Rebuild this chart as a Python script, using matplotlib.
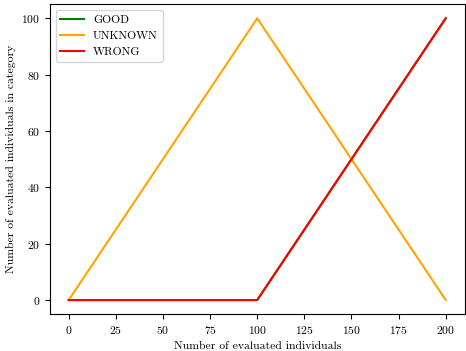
import numpy as np
import matplotlib.pyplot as plt

plt.rcParams['font.family'] = 'serif'
plt.rcParams['font.serif'] = ['cmr10', 'DejaVu Serif']
plt.rcParams['mathtext.fontset'] = 'cm'
plt.rcParams['axes.formatter.use_mathtext'] = True
plt.rcParams['font.size'] = 8.4

evaluated = [0, 100, 200]
good = [0, 0, 100]
unknown = [0, 100, 0]
wrong = [0, 0, 100]

fig, ax = plt.subplots(figsize=(4.66, 3.51), dpi=100)
fig.subplots_adjust(left=0.107, right=0.997, bottom=0.105, top=0.988)

ax.plot(evaluated, good, color="green", label="GOOD")
ax.plot(evaluated, unknown, color="orange", label="UNKNOWN")
ax.plot(evaluated, wrong, color="red", label="WRONG")

ax.set_xlabel("Number of evaluated individuals")
ax.set_ylabel("Number of evaluated individuals in category")
ax.legend(loc="upper left")

plt.savefig("out.png", dpi=100)
